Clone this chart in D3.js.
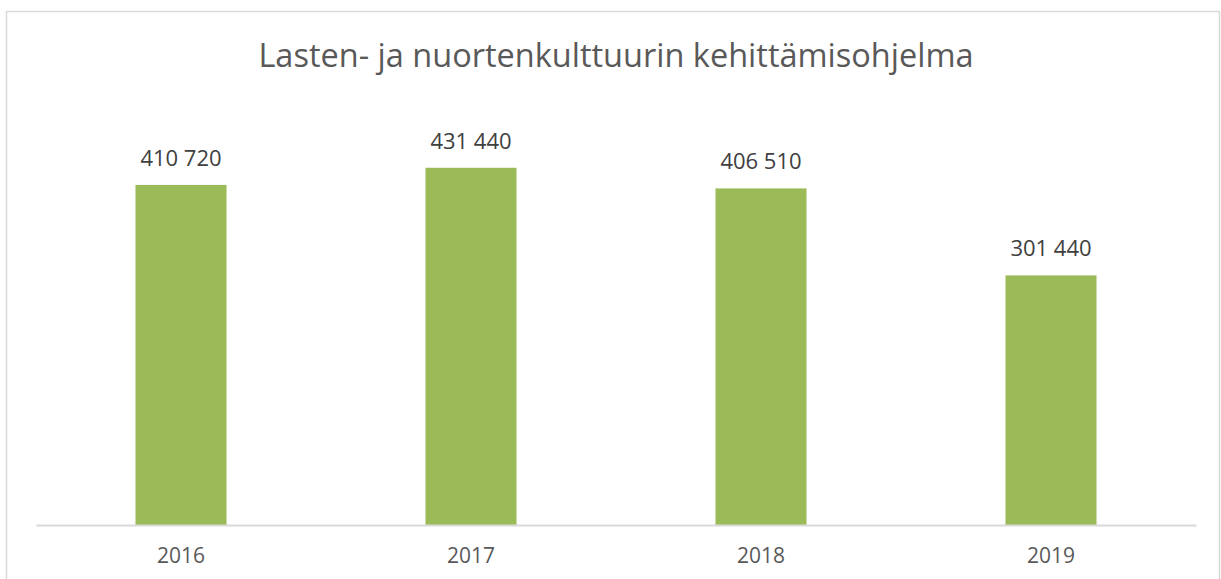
<!DOCTYPE html>
<meta charset="utf-8">
<style>
    body { margin: 0; background: #fff; }
    text { font-family: "Open Sans", "Liberation Sans", Arial, sans-serif; }
    .title { font-size: 32.5px; fill: #595959; }
    .value { font-size: 22px; fill: #404040; }
    .xaxis text { font-size: 21px; fill: #595959; }
</style>
<svg></svg>
<script src="https://d3js.org/d3.v7.min.js"></script>
<script>
    var years = ["2016", "2017", "2018", "2019"];
    var amounts = [410720, 431440, 406510, 301440];
    var titleText = "Lasten- ja nuortenkulttuurin kehittämisohjelma";

    var width = 1221, height = 579;
    var svg = d3.select("svg").attr("width", width).attr("height", height);

    // chart frame
    svg.append("rect")
        .attr("x", 6.5).attr("y", 11.5)
        .attr("width", 1213).attr("height", 600)
        .attr("fill", "none")
        .attr("stroke", "#d9d9d9")
        .attr("stroke-width", 1.5);

    svg.append("text")
        .attr("class", "title")
        .attr("x", 616).attr("y", 67)
        .attr("text-anchor", "middle")
        .text(titleText);

    var x = d3.scaleBand().domain(years).range([36, 1196]).paddingInner(0.686).paddingOuter(0.343);
    var y = d3.scaleLinear().domain([0, 500000]).range([525, 111]);

    var fmt = function (v) { return d3.format(",")(v).replace(/,/g, " "); };

    svg.append("g").selectAll("rect")
        .data(amounts)
        .enter().append("rect")
        .attr("x", function (d, i) { return x(years[i]); })
        .attr("y", function (d) { return y(d); })
        .attr("width", x.bandwidth())
        .attr("height", function (d) { return y(0) - y(d); })
        .attr("fill", "#9bbb59");

    svg.append("g").selectAll("text")
        .data(amounts)
        .enter().append("text")
        .attr("class", "value")
        .attr("x", function (d, i) { return x(years[i]) + x.bandwidth() / 2; })
        .attr("y", function (d) { return y(d) - 19; })
        .attr("text-anchor", "middle")
        .text(fmt);

    var axis = svg.append("g")
        .attr("class", "xaxis")
        .attr("transform", "translate(0,525)")
        .call(d3.axisBottom(x).tickSize(0));
    axis.select(".domain").attr("stroke", "#d9d9d9").attr("stroke-width", 2);
    axis.selectAll("text").attr("dy", null).attr("y", 38).attr("fill", "#595959");
</script>
